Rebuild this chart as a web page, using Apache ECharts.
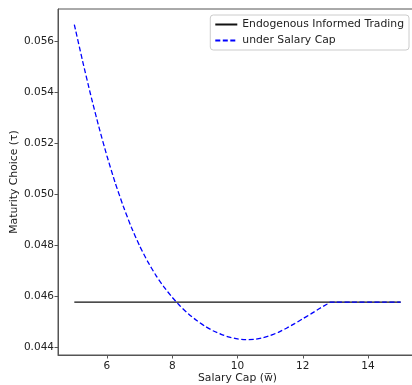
<!DOCTYPE html>
<html>
<head>
<meta charset="utf-8">
<script src="https://cdn.jsdelivr.net/npm/echarts@6/dist/echarts.min.js"></script>
<style>
  html, body { margin: 0; padding: 0; background: #fff; }
  #chart { width: 412px; height: 385px; }
</style>
</head>
<body>
<div id="chart"></div>
<script>
  // salary cap values (x)
  var capX = [5.0, 5.25, 5.5, 5.75, 6.0, 6.25, 6.5, 6.75, 7.0, 7.25, 7.5, 7.75, 8.0, 8.25, 8.5, 8.75,
              9.0, 9.25, 9.5, 9.75, 10.0, 10.25, 10.5, 10.75, 11.0, 11.25, 11.5, 11.75, 12.0, 12.25,
              12.5, 12.75, 12.84, 13.0, 13.5, 14.0, 14.5, 15.0];
  // maturity choice under salary cap
  var capTau = [0.05666, 0.05525, 0.05391, 0.05266, 0.05151, 0.05047, 0.04954, 0.04871, 0.04799,
                0.04737, 0.04683, 0.04637, 0.04597, 0.04562, 0.04532, 0.04506, 0.04484, 0.04466,
                0.04452, 0.04441, 0.04434, 0.04431, 0.04432, 0.04438, 0.04447, 0.04460, 0.04476,
                0.04494, 0.04513, 0.04532, 0.04552, 0.04571, 0.04578, 0.04578, 0.04578, 0.04578,
                0.04578, 0.04578];
  // endogenous informed trading (flat)
  var endoX = [5.0, 15.0];
  var endoTau = [0.04578, 0.04578];

  var xTicks = [6, 8, 10, 12, 14];
  var yTicks = [0.044, 0.046, 0.048, 0.050, 0.052, 0.054, 0.056];

  var font = 'DejaVu Sans';

  function pairs(xs, ys) {
    var out = [];
    for (var i = 0; i < xs.length; i++) out.push([xs[i], ys[i]]);
    return out;
  }

  var chart = echarts.init(document.getElementById('chart'));
  chart.setOption({
    animation: false,
    backgroundColor: '#fff',
    grid: {
      left: 58, right: -5, top: 9, bottom: 30,
      outerBoundsMode: 'none',
      containLabel: false,
      show: true, borderColor: '#555', borderWidth: 1
    },
    legend: {
      orient: 'vertical',
      right: 3, top: 15,
      itemWidth: 22, itemHeight: 10, itemGap: 5,
      padding: [4, 5, 4, 4],
      borderColor: '#ccc', borderWidth: 1, borderRadius: 3,
      backgroundColor: '#fff',
      itemStyle: { opacity: 0 },
      textStyle: { fontFamily: font, fontSize: 10.8, color: '#222' },
      data: ['Endogenous Informed Trading', 'under Salary Cap']
    },
    xAxis: {
      type: 'value',
      min: 4.5, max: 15.5,
      name: 'Salary Cap (w\u0305)',
      nameLocation: 'middle',
      nameGap: 18,
      nameMoveOverlap: false,
      nameTextStyle: { fontFamily: font, fontSize: 10.8, color: '#222' },
      axisLine: { show: true, onZero: false, lineStyle: { color: '#555', width: 1 } },
      axisTick: { show: true, length: 3.5, customValues: xTicks, lineStyle: { color: '#555' } },
      axisLabel: { customValues: xTicks, fontFamily: font, fontSize: 10.5, color: '#222', margin: 6 },
      splitLine: { show: false }
    },
    yAxis: {
      type: 'value',
      min: 0.04371, max: 0.05727,
      name: 'Maturity Choice (\u03c4)',
      nameLocation: 'middle',
      nameGap: 38,
      nameMoveOverlap: false,
      nameTextStyle: { fontFamily: font, fontSize: 10.8, color: '#222' },
      axisLine: { show: true, onZero: false, lineStyle: { color: '#555', width: 1 } },
      axisTick: { show: true, length: 3.5, customValues: yTicks, lineStyle: { color: '#555' } },
      axisLabel: {
        customValues: yTicks, fontFamily: font, fontSize: 10.5, color: '#222', margin: 4,
        formatter: function (v) { return v.toFixed(3); }
      },
      splitLine: { show: false }
    },
    series: [
      {
        name: 'Endogenous Informed Trading',
        type: 'line',
        symbol: 'none',
        lineStyle: { color: '#111', width: 1.2 },
        itemStyle: { color: '#111' },
        data: pairs(endoX, endoTau),
        z: 2
      },
      {
        name: 'under Salary Cap',
        type: 'line',
        symbol: 'none',
        smooth: 0.2,
        lineStyle: { color: '#0000ff', width: 1.3, type: [5, 2.5] },
        itemStyle: { color: '#0000ff' },
        data: pairs(capX, capTau),
        z: 3
      }
    ]
  });
</script>
</body>
</html>
